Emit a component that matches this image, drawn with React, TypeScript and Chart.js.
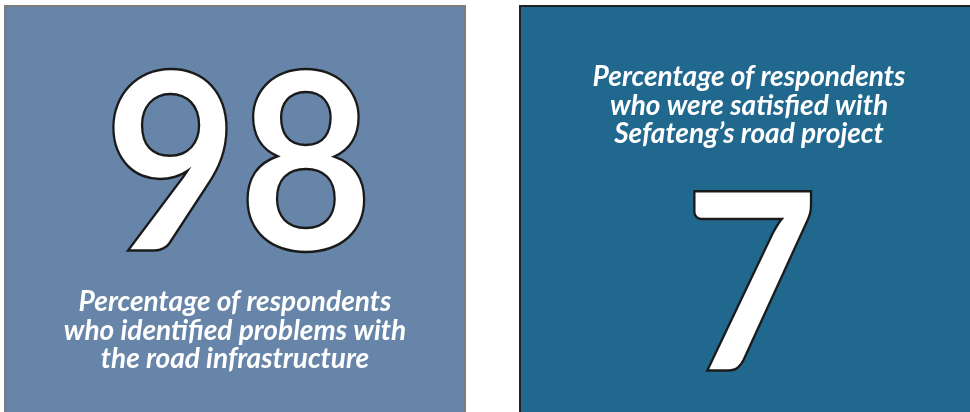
import React, { useEffect, useRef } from "react";
import { Chart, registerables } from "chart.js";

Chart.register(...registerables);

const categories = ["Identified problems", "Satisfied"];
const values = [98, 7];
const captions = [
  ["Percentage of respondents", "who identified problems with", "the road infrastructure"],
  ["Percentage of respondents", "who were satisfied with", "Sefateng\u2019s road project"],
];
const panelColors = ["#6785a8", "#21688f"];
const borderColors = ["#7c7c7c", "#222222"];

const DIGIT_FONT = "Lato, 'Open Sans', 'DejaVu Sans', sans-serif";
const CAPTION_FONT = "Lato, 'Open Sans', 'DejaVu Sans', sans-serif";

const panelPlugin = {
  id: "panels",
  beforeDraw(chart: any) {
    const ctx = chart.ctx as CanvasRenderingContext2D;
    const W = chart.width;
    const H = chart.height;
    const panels = [
      { x: 5, y: 6, w: 460, h: H + 10, numBox: { x0: 113, x1: 365, y0: 67, y1: 252 }, capX: 235, capBase: [311, 340, 368] },
      { x: 520, y: 6, w: W - 520 + 10, h: H + 10, numBox: { x0: 694, x1: 812, y0: 190, y1: 370 }, capX: 749, capBase: [86, 115, 143] },
    ];
    ctx.save();
    panels.forEach((p, i) => {
      ctx.fillStyle = panelColors[i];
      ctx.fillRect(p.x, p.y, p.w, p.h);
      ctx.strokeStyle = borderColors[i];
      ctx.lineWidth = 2;
      ctx.strokeRect(p.x, p.y, p.w, p.h);

      // big number
      const txt = String(values[i]);
      ctx.textAlign = "left";
      ctx.textBaseline = "alphabetic";
      ctx.font = `bold 200px ${DIGIT_FONT}`;
      const m = ctx.measureText(txt);
      const mh = m.actualBoundingBoxAscent + m.actualBoundingBoxDescent;
      const mw = m.actualBoundingBoxLeft + m.actualBoundingBoxRight;
      const b = p.numBox;
      const sy = (b.y1 - b.y0) / mh;
      const sx = (b.x1 - b.x0) / mw;
      ctx.save();
      ctx.translate(b.x0, b.y0);
      ctx.scale(sx, sy);
      const tx = m.actualBoundingBoxLeft;
      const ty = m.actualBoundingBoxAscent;
      ctx.fillStyle = "#ffffff";
      ctx.fillText(txt, tx, ty);
      ctx.lineWidth = 2.4 / Math.sqrt(sx * sy);
      ctx.strokeStyle = "#1a1a1a";
      ctx.lineJoin = "miter";
      ctx.strokeText(txt, tx, ty);
      ctx.restore();

      // caption
      let fs = 20;
      ctx.font = `italic bold ${fs}px ${CAPTION_FONT}`;
      const w0 = ctx.measureText(captions[i][0]).width;
      fs = fs * (313 / w0);
      ctx.font = `italic bold ${fs.toFixed(2)}px ${CAPTION_FONT}`;
      ctx.fillStyle = "#ffffff";
      ctx.textAlign = "center";
      ctx.textBaseline = "alphabetic";
      captions[i].forEach((line, k) => {
        ctx.fillText(line, p.capX, p.capBase[k]);
      });
    });
    ctx.restore();
  },
};

export default function App() {
  const ref = useRef<HTMLCanvasElement | null>(null);
  useEffect(() => {
    document.body.style.margin = "0";
    const chart = new Chart(ref.current as HTMLCanvasElement, {
      type: "bar",
      data: {
        labels: categories,
        datasets: [
          {
            label: "Percentage",
            data: values,
            backgroundColor: "rgba(0,0,0,0)",
            borderWidth: 0,
          },
        ],
      },
      options: {
        animation: false,
        responsive: false,
        maintainAspectRatio: false,
        layout: { padding: 0 },
        plugins: { legend: { display: false }, tooltip: { enabled: false } },
        scales: {
          x: { display: false },
          y: { display: false, min: 0, max: 100 },
        },
      },
      plugins: [panelPlugin],
    });
    return () => chart.destroy();
  }, []);
  return (
    <div style={{ width: 970, height: 412 }}>
      <canvas ref={ref} width={970} height={412} style={{ display: "block" }} />
    </div>
  );
}
